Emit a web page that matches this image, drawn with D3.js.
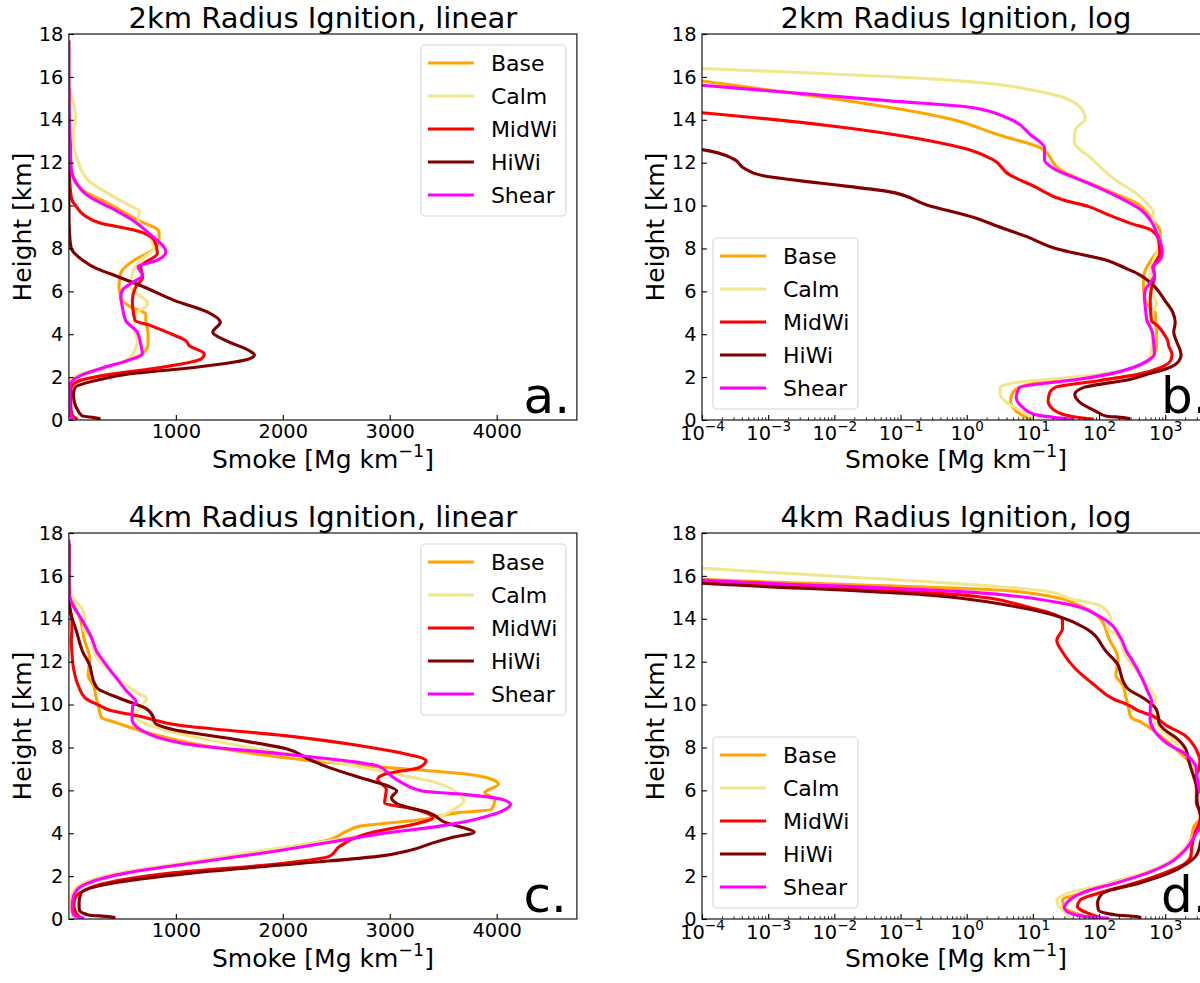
<!DOCTYPE html>
<html><head><meta charset="utf-8">
<script src="https://cdn.jsdelivr.net/npm/d3@7"></script>
<style>body{margin:0;background:#fff}svg{display:block;font-family:"DejaVu Sans",sans-serif}</style>
</head><body><svg id="chart" width="1200" height="983"></svg>
<script>
// ---------------- DATA ----------------
const seriesNames = ["Base", "Calm", "MidWi", "HiWi", "Shear"];
const seriesColors = ["#FFA500", "#F0E68C", "#FF0000", "#800000", "#FF00FF"];
const titles = ["2km Radius Ignition, linear", "2km Radius Ignition, log", "4km Radius Ignition, linear", "4km Radius Ignition, log"];
const panelLetters = ["a.", "b.", "c.", "d."];
const heightTicks = [0, 2, 4, 6, 8, 10, 12, 14, 16, 18];
const linearTicks = [1000, 2000, 3000, 4000];
const logTickExponents = [-4, -3, -2, -1, 0, 1, 2, 3];
const smokeMax = 4750;
const smokeMinLog = 1e-4;
const heightMax = 18;

// [height km, smoke Mg/km]
const base2km = [[0.0,10],[0.11,8.1],[0.42,5.6],[0.89,4.6],[1.36,5.2],[1.75,11.7],[1.95,45],[2.14,140],[2.6,453],[3.08,687],[3.55,740],[4.02,740],[4.64,719],[4.95,719],[5.27,578],[5.58,500],[6.2,468],[6.83,483],[7.45,609],[7.92,781],[8.39,843],[8.78,843],[9.33,640],[10.15,350],[10.73,126],[11.67,26],[12.69,13],[13.3,3.0],[14.02,0.59],[15.81,1e-4],[17.7,1e-9]];
const calm2km = [[0.03,10.5],[0.27,8.1],[0.73,4.4],[1.2,3.2],[1.52,3.2],[1.75,5.6],[1.98,36],[2.14,108],[2.6,460],[3.08,600],[3.7,640],[4.33,610],[4.95,625],[5.42,740],[6.2,578],[6.83,593],[7.45,670],[8.0,790],[8.5,760],[9.0,690],[9.33,647],[9.72,660],[10.1,530],[10.58,360],[11.2,175],[12.14,80],[13.0,42],[13.55,44],[14.05,62],[14.6,51],[15.27,15],[15.92,0.25],[16.39,1e-4],[17.0,1e-9]];
const midwi2km = [[0.03,81],[0.19,36],[0.42,22],[0.89,17],[1.28,18],[1.52,22],[1.83,98],[2.14,400],[2.45,860],[2.84,1235],[3.08,1266],[3.47,1125],[3.7,1094],[4.02,953],[4.4,765],[4.64,620],[5.11,600],[5.58,593],[6.2,625],[6.67,690],[7.14,671],[7.77,828],[8.39,797],[8.86,609],[9.17,300],[9.56,140],[9.95,70],[10.27,28],[10.9,10.4],[11.44,4.4],[12.14,2.5],[12.6,1.1],[13.05,0.25],[13.7,0.0098],[14.33,1e-4],[15.5,1e-9]];
const hiwi2km = [[0.06,296],[0.11,233],[0.19,126],[0.27,108],[0.42,87],[0.81,52],[1.2,43],[1.52,59],[1.9,300],[2.14,546],[2.45,1172],[2.77,1626],[3.03,1735],[3.23,1688],[3.7,1469],[4.09,1345],[4.56,1416],[5.03,1297],[5.58,984],[6.2,703],[6.83,380],[7.06,260],[7.45,130],[8.0,22],[8.55,8.1],[9.02,3.0],[9.41,1.4],[10.03,0.25],[10.66,0.063],[11.05,0.0059],[11.39,8.5e-4],[11.75,4.3e-4],[12.17,3e-4],[12.61,1e-4],[13.5,1e-9]];
const shear2km = [[0.03,41],[0.08,28],[0.27,10.4],[0.58,7.1],[1.05,5.6],[1.52,6.3],[1.75,19.5],[1.9,50],[2.14,140],[2.45,327],[2.77,546],[3.08,687],[3.55,671],[4.09,640],[4.64,531],[5.27,500],[5.73,484],[6.05,500],[6.36,578],[6.75,687],[7.14,647],[7.45,828],[7.84,906],[8.7,750],[9.33,593],[9.8,430],[10.42,190],[11.05,68],[11.75,20],[12.14,15],[12.69,15],[13.31,9.2],[14.05,4.4],[14.61,0.98],[14.88,0.07],[15.61,1e-4],[17.7,1e-9]];

const base4km = [[0.03,62],[0.11,59],[0.5,30],[0.89,28],[1.2,55],[1.67,145],[2.14,500],[2.6,1080],[3.23,1919],[3.7,2435],[4.09,2597],[4.33,2726],[4.64,3306],[4.95,3629],[5.11,3952],[5.58,3984],[5.89,3887],[6.28,4016],[6.52,3952],[6.75,3726],[7.06,2984],[7.45,2145],[8.08,1274],[8.7,726],[9.17,435],[9.4,306],[9.95,274],[10.42,251],[10.9,230],[11.36,180],[12.14,194],[13.08,141],[14.0,105],[14.6,52],[15.03,19.5],[15.34,3.0],[15.84,1e-4],[17.5,1e-9]];
const calm4km = [[0.05,35],[0.27,32],[0.58,25],[0.89,23],[1.2,34],[1.67,145],[2.14,468],[2.6,1048],[3.23,1855],[3.7,2500],[4.17,2984],[4.64,3403],[5.11,3597],[5.5,3694],[5.89,3629],[6.36,3435],[6.83,2984],[7.45,2339],[8.08,1597],[8.7,984],[9.02,760],[9.48,613],[10.03,694],[10.27,725],[10.58,629],[11.2,460],[12.3,250],[13.2,194],[13.55,135],[14.0,150],[14.6,105],[14.95,36],[15.27,17],[16.36,1e-4],[17.5,1e-9]];
const midwi4km = [[0.05,110],[0.27,68],[0.58,47],[0.89,52],[1.2,97],[1.67,339],[2.14,952],[2.6,2016],[2.92,2435],[3.39,2532],[4.02,2823],[4.48,3274],[4.72,3403],[5.11,3242],[5.42,2952],[6.05,2968],[6.52,2887],[6.75,2952],[7.06,3274],[7.38,3339],[7.77,3081],[8.08,2726],[8.55,2016],[9.02,1050],[9.48,640],[9.72,390],[9.95,290],[10.27,162],[10.89,87],[11.67,44],[12.45,28],[13.0,23],[13.55,28],[13.94,28],[14.56,8.1],[15.11,0.85],[15.69,1e-4],[17.5,1e-9]];
const hiwi4km = [[0.06,435],[0.11,371],[0.19,182],[0.42,98],[0.73,95],[1.2,113],[1.67,403],[2.14,1145],[2.6,2177],[2.92,2887],[3.23,3210],[3.55,3403],[3.78,3565],[4.06,3790],[4.25,3694],[4.48,3532],[4.95,3371],[5.34,3081],[5.66,3016],[5.97,3065],[6.2,2984],[6.59,2726],[7.06,2435],[7.45,2242],[7.92,2048],[8.39,1532],[8.86,952],[9.17,800],[9.4,790],[9.8,726],[10.27,484],[10.73,274],[11.05,234],[11.5,210],[11.83,195],[12.45,130],[13.55,63],[14.05,28],[14.56,5.6],[15.11,0.25],[15.66,1e-4],[17.5,1e-9]];
const shear4km = [[0.03,141],[0.19,44],[0.5,30],[0.89,36],[1.36,75],[1.67,177],[2.14,532],[2.6,1145],[3.23,2016],[3.63,2500],[4.02,2984],[4.33,3468],[4.56,3726],[4.8,3919],[5.11,4081],[5.34,4129],[5.58,4048],[5.81,3694],[5.97,3306],[6.36,3113],[6.67,3016],[7.14,2887],[7.45,2468],[7.77,1855],[8.08,1210],[8.39,887],[8.86,661],[9.33,590],[9.95,597],[10.11,630],[10.58,548],[11.2,450],[12.14,306],[12.45,263],[13.08,215],[14.05,110],[14.72,28],[15.23,1.26],[15.81,1e-4],[17.7,1e-9]];

const series2km = [base2km, calm2km, midwi2km, hiwi2km, shear2km];
const series4km = [base4km, calm4km, midwi4km, hiwi4km, shear4km];

// ---------------- LAYOUT ----------------
const W = 508, H = 386;
const panels = [
  {left: 68.9, top: 34,  type: "linear", data: series2km, legend: "ur", letterX: 523.6},
  {left: 702,  top: 34,  type: "log",    data: series2km, legend: "ll", letterX: 1161},
  {left: 68.9, top: 533, type: "linear", data: series4km, legend: "ur", letterX: 523.6},
  {left: 702,  top: 533, type: "log",    data: series4km, legend: "ll", letterX: 1161}
];
const FONT_TICK = 19.4, FONT_LABEL = 25, FONT_TITLE = 29, FONT_LEGEND = 22, FONT_LETTER = 50;
const LINE_W = 3.1;
const svg = d3.select("#chart");
svg.append("rect").attr("width", 1200).attr("height", 983).attr("fill", "#fff");

panels.forEach((p, i) => {
  const g = svg.append("g");
  const x = p.type === "linear"
    ? d3.scaleLinear().domain([0, smokeMax]).range([p.left, p.left + W])
    : d3.scaleLog().domain([smokeMinLog, smokeMax]).range([p.left, p.left + W]);
  const y = d3.scaleLinear().domain([0, heightMax]).range([p.top + H, p.top]);

  const clipId = "clip" + i;
  g.append("clipPath").attr("id", clipId).append("rect")
    .attr("x", p.left).attr("y", p.top).attr("width", W).attr("height", H);

  const line = d3.line()
    .x(d => x(Math.max(d[1], p.type === "log" ? 1e-12 : 0)))
    .y(d => y(d[0]))
    .curve(d3.curveMonotoneY);

  const lg = g.append("g").attr("clip-path", `url(#${clipId})`);
  p.data.forEach((s, k) => {
    const pts = s.slice().sort((a, b) => a[0] - b[0]);
    lg.append("path").attr("d", line(pts)).attr("fill", "none")
      .attr("stroke", seriesColors[k]).attr("stroke-width", LINE_W)
      .attr("stroke-linejoin", "round").attr("stroke-linecap", "butt");
  });

  // Y axis
  const ya = g.append("g").attr("transform", `translate(${p.left},0)`)
    .call(d3.axisLeft(y).tickValues(heightTicks).tickSize(-4.9).tickPadding(5.5).tickFormat(d3.format("d")));
  ya.select(".domain").remove();
  ya.selectAll("line").attr("stroke", "#000").attr("stroke-width", 1.1);
  ya.selectAll("text").attr("font-size", FONT_TICK).attr("fill", "#000").attr("font-family", "DejaVu Sans");

  // X axis
  const xb = g.append("g").attr("transform", `translate(0,${p.top + H})`);
  if (p.type === "linear") {
    xb.call(d3.axisBottom(x).tickValues(linearTicks).tickSize(-4.9).tickPadding(3.9).tickFormat(d3.format("d")));
    xb.selectAll("text").attr("font-size", FONT_TICK).attr("fill", "#000").attr("font-family", "DejaVu Sans");
  } else {
    const majors = logTickExponents.map(e => Math.pow(10, e));
    const minors = [];
    logTickExponents.forEach(e => { for (let m = 2; m <= 9; m++) { const v = m * Math.pow(10, e); if (v <= smokeMax) minors.push(v); } });
    const xm = g.append("g").attr("transform", `translate(0,${p.top + H})`)
      .call(d3.axisBottom(x).tickValues(minors).tickSize(-2.8).tickFormat(() => ""));
    xm.select(".domain").remove();
    xm.selectAll("line").attr("stroke", "#000").attr("stroke-width", 0.8);
    xb.call(d3.axisBottom(x).tickValues(majors).tickSize(-4.9).tickFormat(() => ""));
    xb.selectAll(".tick").each(function(d) {
      const e = Math.round(Math.log10(d));
      const t = d3.select(this).append("text").attr("y", 20).attr("text-anchor", "middle")
        .attr("fill", "#000").attr("font-size", FONT_TICK).attr("font-family", "DejaVu Sans");
      t.append("tspan").text("10");
      t.append("tspan").attr("font-size", FONT_TICK * 0.7).attr("dy", -9.3).text((e < 0 ? "\u2212" : "") + Math.abs(e));
    });
  }
  xb.select(".domain").remove();
  xb.selectAll("line").filter(function(){ return !this.getAttribute("stroke-width"); }).attr("stroke", "#000").attr("stroke-width", 1.1);

  // spines
  g.append("rect").attr("x", p.left).attr("y", p.top).attr("width", W).attr("height", H)
    .attr("fill", "none").attr("stroke", "#000").attr("stroke-width", 1.1);

  // title
  g.append("text").attr("x", p.left + W / 2).attr("y", p.top - 5.7).attr("text-anchor", "middle")
    .attr("font-size", FONT_TITLE).attr("fill", "#000").text(titles[i]);

  // x label
  const xl = g.append("text").attr("x", p.left + W / 2).attr("y", p.top + H + 48).attr("text-anchor", "middle")
    .attr("font-size", FONT_LABEL).attr("fill", "#000");
  xl.append("tspan").text("Smoke [Mg km");
  xl.append("tspan").attr("font-size", FONT_LABEL * 0.7).attr("dy", -11).text("\u22121");
  xl.append("tspan").attr("dy", 11).text("]");

  // y label
  g.append("text").attr("transform", `translate(${p.left - 38},${p.top + H / 2}) rotate(-90)`)
    .attr("text-anchor", "middle").attr("font-size", FONT_LABEL).attr("fill", "#000").text("Height [km]");

  // panel letter
  g.append("text").attr("x", p.letterX).attr("y", p.top + H - 6.7)
    .attr("font-size", FONT_LETTER).attr("fill", "#000").text(panelLetters[i]);

  // legend
  const bw = 145, bh = 171;
  const bx = p.legend === "ur" ? p.left + W - 11 - bw : p.left + 11;
  const by = p.legend === "ur" ? p.top + 11 : p.top + H - 11 - bh;
  const leg = g.append("g");
  leg.append("rect").attr("x", bx).attr("y", by).attr("width", bw).attr("height", bh)
    .attr("rx", 4).attr("fill", "#fff").attr("fill-opacity", 0.8).attr("stroke", "#d6d6d6").attr("stroke-width", 1.1);
  seriesNames.forEach((n, k) => {
    const cy = by + 18 + k * 33;
    leg.append("line").attr("x1", bx + 7).attr("x2", bx + 53).attr("y1", cy).attr("y2", cy)
      .attr("stroke", seriesColors[k]).attr("stroke-width", LINE_W);
    leg.append("text").attr("x", bx + 70).attr("y", cy + 7.8).attr("font-size", FONT_LEGEND)
      .attr("fill", "#000").text(n);
  });
});
</script></body></html>
